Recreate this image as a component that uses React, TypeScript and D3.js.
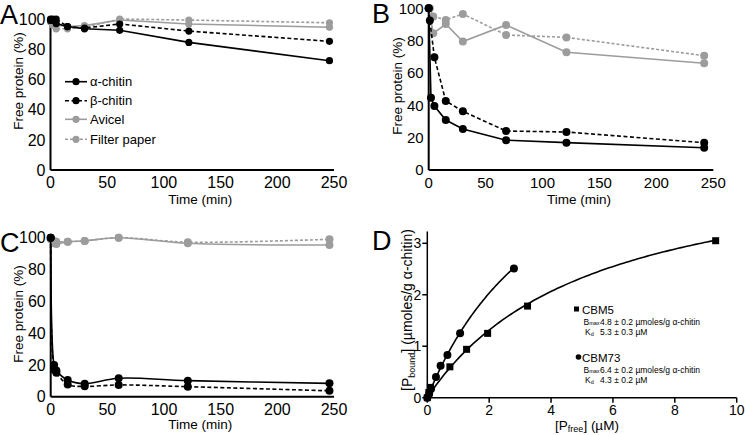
import React from 'react';
import * as d3 from 'd3';

const BLACK = '#000000';
const GRAY = '#9c9c9c';
const FONT = '"Liberation Sans", Arial, Helvetica, sans-serif';

// ---------- Panel A ----------
const timesA = [0, 2, 5, 15, 30, 61, 122, 246];
const aAlpha = [100, 99, 97, 95, 93.5, 92.5, 84.5, 72.4];
const aBeta = [99, 100, 100, 95, 94, 96.7, 92, 85.2];
const aAvicel = [99, 98, 96, 95, 95.6, 99.3, 96.7, 94.5];
const aFilter = [98, 96, 93.5, 93.5, 94.5, 100, 99.3, 97.5];

// ---------- Panel B ----------
const bTimesAlpha = [0, 2, 5, 15, 30, 68, 121, 242];
const bAlpha = [100, 44.7, 39.6, 30.9, 25.4, 18.4, 16.9, 13.8];
const bTimesBeta = [0, 1, 5, 15, 30, 68, 121, 242];
const bBeta = [100, 92.5, 69.7, 42.7, 36.3, 24.1, 23.5, 16.9];
const bTimesAvicel = [0, 4, 15, 30, 68, 121, 242];
const bAvicel = [100, 84.5, 90.3, 79.4, 89.7, 72.8, 66];
const bTimesFilter = [0, 1, 4, 15, 30, 68, 121, 242];
const bFilter = [100, 100, 95, 92.8, 96.5, 83.5, 82, 70.7];

// ---------- Panel C ----------
const timesC = [0, 3, 5, 15, 30, 60, 121, 246];
const cAlpha = [100, 19.9, 16.5, 10.5, 8.2, 11.6, 10.1, 8.4];
const cBeta = [100, 17, 15, 7.6, 6.5, 7.4, 6.3, 3.7];
const cAvicel = [100, 96.5, 96, 97.5, 98, 100, 96.5, 95.4];
const cFilter = [99, 98, 97.5, 97.5, 98, 100, 97.2, 99];

// ---------- Panel D ----------
const cbm5X = [0, 0.05, 0.1, 0.73, 1.27, 1.95, 3.24, 9.32];
const cbm5Y = [0, 0.1, 0.2, 0.6, 0.94, 1.25, 1.78, 3.05];
const cbm73X = [0, 0.06, 0.12, 0.28, 0.43, 0.65, 1.06, 2.8];
const cbm73Y = [0, 0.07, 0.17, 0.4, 0.62, 0.83, 1.25, 2.51];
const cbm5Bmax = 4.8;
const cbm5Kd = 5.3;
const cbm73Bmax = 6.4;
const cbm73Kd = 4.3;

const timeTicks = [0, 50, 100, 150, 200, 250];
const pctTicks = [0, 20, 40, 60, 80, 100];
const dXTicks = [0, 2, 4, 6, 8, 10];
const dYTicks = [0, 1, 2, 3];

const legendNames = ['α-chitin', 'β-chitin', 'Avicel', 'Filter paper'];

type Style = { color: string; dash?: string };
const styles: Style[] = [
  { color: BLACK },
  { color: BLACK, dash: '4,2.5' },
  { color: GRAY },
  { color: GRAY, dash: '3,2' },
];

type Scale = d3.ScaleLinear<number, number>;

function Series({ xs, ys, x, y, st, curve, r = 3.6 }: { xs: number[]; ys: number[]; x: Scale; y: Scale; st: Style; curve?: d3.CurveFactory; r?: number }) {
  const pts: [number, number][] = xs.map((t, i) => [x(t), y(ys[i])]);
  const line = d3.line().curve(curve || d3.curveLinear);
  return (
    <g>
      <path d={line(pts) || ''} fill="none" stroke={st.color} strokeWidth={1.6} strokeDasharray={st.dash} />
      {pts.map((p, i) => (
        <circle key={i} cx={p[0]} cy={p[1]} r={r} fill={st.color} />
      ))}
    </g>
  );
}

function TimeAxes({ x, y, yTitleX, yTitleY, xTitleY, tickSize = 16 }: { x: Scale; y: Scale; yTitleX: number; yTitleY: number; xTitleY: number; tickSize?: number }) {
  const [x0, x1] = x.range();
  const y0 = y(0);
  const yTop = y(100);
  return (
    <g fontFamily={FONT} fill="#000">
      <line x1={x0} x2={x0} y1={y0} y2={yTop} stroke="#000" strokeWidth={2} />
      <line x1={x0} x2={x1} y1={y0} y2={y0} stroke="#000" strokeWidth={2} />
      {pctTicks.map((t) => (
        <text key={'y' + t} x={x0 - 5} y={y(t)} dy="0.36em" textAnchor="end" fontSize={tickSize}>{t}</text>
      ))}
      {timeTicks.map((t) => (
        <text key={'x' + t} x={x(t)} y={y0 + 18} textAnchor="middle" fontSize={tickSize}>{t}</text>
      ))}
      <text transform={`translate(${yTitleX},${yTitleY}) rotate(-90)`} textAnchor="middle" dy="0.35em" fontSize={13.5}>Free protein (%)</text>
      <text x={(x0 + x1) / 2 + 8} y={xTitleY} textAnchor="middle" fontSize={13.5}>Time (min)</text>
    </g>
  );
}

export default function App() {
  const xA = d3.scaleLinear().domain([0, 250]).range([50.5, 334]);
  const yA = d3.scaleLinear().domain([0, 100]).range([170, 19]);
  const xB = d3.scaleLinear().domain([0, 250]).range([428.7, 713.3]);
  const yB = d3.scaleLinear().domain([0, 100]).range([170, 8.3]);
  const xC = d3.scaleLinear().domain([0, 250]).range([50.7, 334]);
  const yC = d3.scaleLinear().domain([0, 100]).range([396.7, 237.7]);
  const xD = d3.scaleLinear().domain([0, 10]).range([427.3, 736.7]);
  const yD = d3.scaleLinear().domain([0, 3]).range([397.7, 243.3]);

  const aSeries = [aAlpha, aBeta, aAvicel, aFilter];
  const bSeries: [number[], number[]][] = [
    [bTimesAlpha, bAlpha],
    [bTimesBeta, bBeta],
    [bTimesAvicel, bAvicel],
    [bTimesFilter, bFilter],
  ];
  const cSeries = [cAlpha, cBeta, cAvicel, cFilter];

  const fit = (bmax: number, kd: number, xmax: number): [number, number][] =>
    d3.range(0, 101).map((i) => {
      const xv = (xmax * i) / 100;
      return [xD(xv), yD((bmax * xv) / (kd + xv))];
    });
  const lineD = d3.line();

  const legendRows = [81.7, 100.7, 119.3, 139.3];

  return (
    <svg width={745} height={435} style={{ position: 'absolute', left: 0, top: 0, background: '#fff' }}>
      <rect width={745} height={435} fill="#fff" />
      <g fontFamily={FONT} fontSize={27} fill="#000">
        <text x={0} y={24}>A</text>
        <text x={372} y={23}>B</text>
        <text x={0} y={252}>C</text>
        <text x={372} y={250}>D</text>
      </g>

      {/* Panel A */}
      <TimeAxes x={xA} y={yA} yTitleX={18} yTitleY={81} xTitleY={204} />
      {[3, 2, 1, 0].map((k) => (
        <Series key={k} xs={timesA} ys={aSeries[k]} x={xA} y={yA} st={styles[k]} />
      ))}
      <g fontFamily={FONT} fontSize={13} fill="#000">
        {legendNames.map((n, i) => (
          <g key={n}>
            <line x1={65} x2={87} y1={legendRows[i]} y2={legendRows[i]} stroke={styles[i].color} strokeWidth={1.6} strokeDasharray={styles[i].dash} />
            <circle cx={76} cy={legendRows[i]} r={3.6} fill={styles[i].color} />
            <text x={90} y={legendRows[i]} dy="0.36em">{n}</text>
          </g>
        ))}
      </g>

      {/* Panel B */}
      <TimeAxes x={xB} y={yB} yTitleX={397} yTitleY={86} xTitleY={204} tickSize={15} />
      {[3, 2, 1, 0].map((k) => (
        <Series key={k} xs={bSeries[k][0]} ys={bSeries[k][1]} x={xB} y={yB} st={styles[k]} r={4} />
      ))}

      {/* Panel C */}
      <TimeAxes x={xC} y={yC} yTitleX={18} yTitleY={314} xTitleY={429} />
      {[3, 2, 1, 0].map((k) => (
        <Series key={k} xs={timesC} ys={cSeries[k]} x={xC} y={yC} st={styles[k]} curve={d3.curveCatmullRom} r={4} />
      ))}

      {/* Panel D */}
      <g fontFamily={FONT} fill="#000">
        <line x1={xD(0)} x2={xD(0)} y1={yD(0)} y2={yD(3.23)} stroke="#000" strokeWidth={1.5} />
        <line x1={xD(0)} x2={xD(10)} y1={yD(0)} y2={yD(0)} stroke="#000" strokeWidth={1.5} />
        {dYTicks.map((t) => (
          <g key={'dy' + t}>
            <line x1={xD(0) - 5} x2={xD(0)} y1={yD(t)} y2={yD(t)} stroke="#000" strokeWidth={1.5} />
            <text x={xD(0) - 6} y={yD(t)} dy="0.36em" textAnchor="end" fontSize={14}>{t}</text>
          </g>
        ))}
        {dXTicks.map((t) => (
          <g key={'dx' + t}>
            <line x1={xD(t)} x2={xD(t)} y1={yD(0)} y2={yD(0) + 5} stroke="#000" strokeWidth={1.5} />
            <text x={xD(t)} y={yD(0) + 17} textAnchor="middle" fontSize={14}>{t}</text>
          </g>
        ))}
        <text transform={`translate(407,310) rotate(-90)`} textAnchor="middle" dy="0.35em" fontSize={14}>
          [P<tspan fontSize={9} dy={3}>bound</tspan><tspan dy={-3}>] (µmoles/g α-chitin)</tspan>
        </text>
        <text x={587} y={430} textAnchor="middle" fontSize={13.5}>
          [P<tspan fontSize={9} dy={2}>free</tspan><tspan dy={-2}>] (µM)</tspan>
        </text>
      </g>
      <path d={lineD(fit(cbm5Bmax, cbm5Kd, cbm5X[cbm5X.length - 1])) || ''} fill="none" stroke="#000" strokeWidth={1.6} />
      <path d={lineD(fit(cbm73Bmax, cbm73Kd, cbm73X[cbm73X.length - 1])) || ''} fill="none" stroke="#000" strokeWidth={1.6} />
      {cbm5X.map((v, i) => (
        <rect key={'s' + i} x={xD(v) - 3.5} y={yD(cbm5Y[i]) - 3.5} width={7} height={7} fill="#000" />
      ))}
      {cbm73X.map((v, i) => (
        <circle key={'c' + i} cx={xD(v)} cy={yD(cbm73Y[i])} r={4} fill="#000" />
      ))}
      <g fontFamily={FONT} fill="#000">
        <rect x={574} y={306.5} width={5} height={5} fill="#000" />
        <text x={582} y={313.5} fontSize={11.5}>CBM5</text>
        <text x={583.5} y={325} fontSize={8.5}>B<tspan fontSize={5.5}>max</tspan></text>
        <text x={600} y={325} fontSize={8.5}>{`${cbm5Bmax} ± 0.2 µmoles/g α-chitin`}</text>
        <text x={585} y={335} fontSize={8.5}>K<tspan fontSize={5.5} dy={1}>d</tspan></text>
        <text x={600} y={335} fontSize={8.5}>{`${cbm5Kd} ± 0.3 µM`}</text>

        <circle cx={578.5} cy={357} r={2.8} fill="#000" />
        <text x={582} y={361.5} fontSize={11.5}>CBM73</text>
        <text x={583.5} y={373} fontSize={8.5}>B<tspan fontSize={5.5}>max</tspan></text>
        <text x={600} y={373} fontSize={8.5}>{`${cbm73Bmax} ± 0.2 µmoles/g α-chitin`}</text>
        <text x={585} y={383} fontSize={8.5}>K<tspan fontSize={5.5} dy={1}>d</tspan></text>
        <text x={600} y={383} fontSize={8.5}>{`${cbm73Kd} ± 0.2 µM`}</text>
      </g>
    </svg>
  );
}
